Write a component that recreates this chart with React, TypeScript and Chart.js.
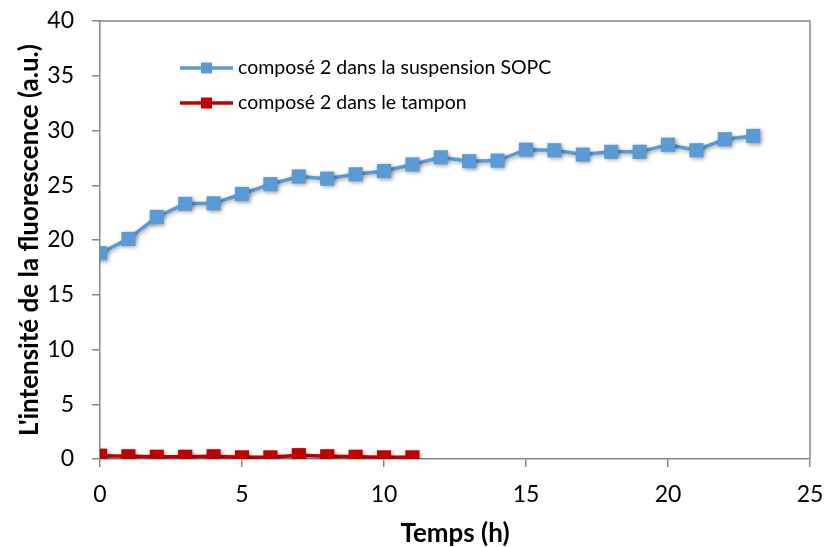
import React, { useEffect, useRef } from "react";
import { Chart, registerables } from "chart.js";

Chart.register(...registerables);

const hoursSOPC = [0, 1, 2, 3, 4, 5, 6, 7, 8, 9, 10, 11, 12, 13, 14, 15, 16, 17, 18, 19, 20, 21, 22, 23];
const valuesSOPC = [18.8, 20.1, 22.1, 23.3, 23.35, 24.2, 25.1, 25.8, 25.6, 26.0, 26.3, 26.9, 27.55, 27.2, 27.25, 28.25, 28.2, 27.8, 28.05, 28.05, 28.7, 28.2, 29.2, 29.5];
const hoursTampon = [0, 1, 2, 3, 4, 5, 6, 7, 8, 9, 10, 11];
const valuesTampon = [0.3, 0.25, 0.2, 0.2, 0.25, 0.15, 0.15, 0.35, 0.25, 0.2, 0.15, 0.15];
const seriesLabels = ["composé 2 dans la suspension SOPC", "composé 2 dans le tampon"];
const seriesColors = ["#5B9BD5", "#C00000"];
const xTitle = "Temps (h)";
const yTitle = "L'intensité de la fluorescence (a.u.)";

const FONT = "Lato, 'Open Sans', sans-serif";
const AXIS = "#878787";

export default function App() {
  const ref = useRef<HTMLCanvasElement | null>(null);
  useEffect(() => {
    if (!ref.current) return;
    const shadowPlugin = {
      id: "shadow",
      beforeDatasetsDraw(chart: any) {
        const ctx = chart.ctx;
        ctx.save();
        ctx.shadowColor = "rgba(0,0,0,0.35)";
        ctx.shadowBlur = 4;
        ctx.shadowOffsetX = 1.5;
        ctx.shadowOffsetY = 1.5;
      },
      afterDatasetsDraw(chart: any) {
        chart.ctx.restore();
      },
    };
    const boxAndLegend = {
      id: "boxLegend",
      afterDraw(chart: any) {
        const ctx = chart.ctx;
        const a = chart.chartArea;
        ctx.save();
        ctx.strokeStyle = AXIS;
        ctx.lineWidth = 1.5;
        ctx.beginPath();
        ctx.moveTo(a.left, a.top);
        ctx.lineTo(a.right, a.top);
        ctx.lineTo(a.right, a.bottom);
        ctx.stroke();
        // legend
        const x0 = a.left + 80;
        const ys = [a.top + 47, a.top + 82];
        ctx.font = `19.5px ${FONT}`;
        ctx.textBaseline = "middle";
        ctx.textAlign = "left";
        for (let i = 0; i < 2; i++) {
          const y = ys[i];
          ctx.strokeStyle = seriesColors[i];
          ctx.lineWidth = 3.5;
          ctx.beginPath();
          ctx.moveTo(x0, y);
          ctx.lineTo(x0 + 53, y);
          ctx.stroke();
          ctx.fillStyle = seriesColors[i];
          ctx.fillRect(x0 + 21, y - 5.5, 11, 11);
          ctx.fillStyle = "#000";
          ctx.fillText(seriesLabels[i], x0 + 58, y);
        }
        ctx.restore();
      },
    };
    const chart = new Chart(ref.current, {
      type: "line",
      data: {
        datasets: [
          {
            label: seriesLabels[0],
            data: hoursSOPC.map((h, i) => ({ x: h, y: valuesSOPC[i] })),
            borderColor: seriesColors[0],
            backgroundColor: seriesColors[0],
            borderWidth: 3.5,
            pointStyle: "rect",
            pointRadius: 10,
            pointBorderWidth: 0,
            tension: 0,
          },
          {
            label: seriesLabels[1],
            data: hoursTampon.map((h, i) => ({ x: h, y: valuesTampon[i] })),
            borderColor: seriesColors[1],
            backgroundColor: seriesColors[1],
            borderWidth: 3.5,
            pointStyle: "rect",
            pointRadius: 10,
            pointBorderWidth: 0,
            tension: 0,
          },
        ],
      },
      options: {
        animation: false,
        responsive: false,
        layout: { padding: { top: 21, right: 17, left: 0, bottom: 0 } },
        plugins: { legend: { display: false }, tooltip: { enabled: false } },
        scales: {
          x: {
            type: "linear",
            min: 0,
            max: 25,
            ticks: { stepSize: 5, color: "#000", font: { family: FONT, size: 23 }, padding: 14 },
            grid: { drawOnChartArea: false, drawTicks: true, tickLength: 8, color: AXIS, lineWidth: 1.5 },
            border: { color: AXIS, width: 1.5 },
            title: { display: true, text: xTitle, color: "#000", font: { family: FONT, size: 26, weight: "bold", lineHeight: 1 }, padding: { top: 0, bottom: 0 } },
            afterFit(scale: any) {
              scale.height = 88;
              scale.paddingLeft = 0;
              scale.paddingRight = 0;
            },
          },
          y: {
            min: 0,
            max: 40,
            ticks: { stepSize: 5, color: "#000", font: { family: FONT, size: 23 }, padding: 18 },
            grid: { drawOnChartArea: false, drawTicks: true, tickLength: 8, color: AXIS, lineWidth: 1.5 },
            border: { color: AXIS, width: 1.5 },
            title: { display: true, text: yTitle, color: "#000", font: { family: FONT, size: 26, weight: "bold" }, padding: { top: 14, bottom: 0 } },
            afterFit(scale: any) {
              scale.width = 100;
              scale.paddingTop = 0;
              scale.paddingBottom = 0;
            },
          },
        },
      },
      plugins: [shadowPlugin, boxAndLegend],
    } as any);
    return () => chart.destroy();
  }, []);
  return (
    <div style={{ position: "fixed", left: 0, top: 0, width: 827, height: 547, background: "#fff" }}>
      <canvas ref={ref} width={827} height={547} style={{ width: 827, height: 547 }} />
    </div>
  );
}
